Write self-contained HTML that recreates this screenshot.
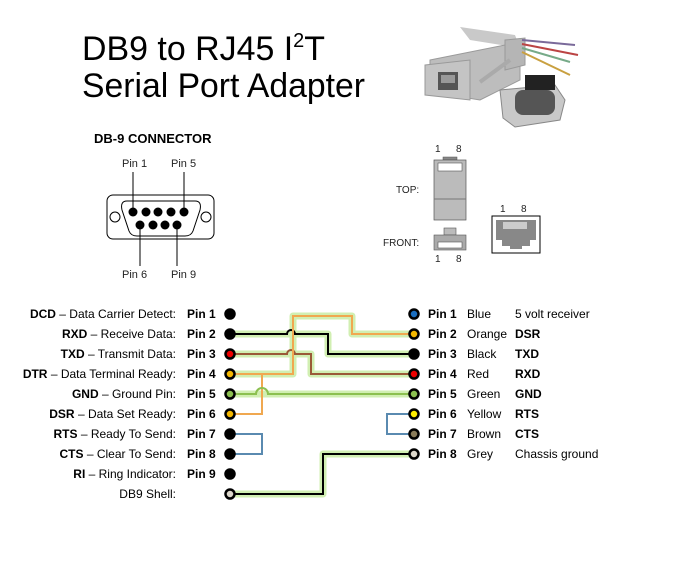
<!DOCTYPE html>
<html><head><meta charset="utf-8"><style>
html,body{margin:0;padding:0;background:#fff;}
svg{display:block;font-family:"Liberation Sans",sans-serif;}
</style></head><body>
<svg width="690" height="566" viewBox="0 0 690 566" xmlns="http://www.w3.org/2000/svg">
<rect width="690" height="566" fill="#fff"/>
<!-- Title -->
<text x="82" y="60" font-size="34" textLength="243" lengthAdjust="spacingAndGlyphs">DB9 to RJ45 I<tspan font-size="20" dy="-13">2</tspan><tspan dy="13">T</tspan></text>
<text x="82" y="97" font-size="34" textLength="283" lengthAdjust="spacingAndGlyphs">Serial Port Adapter</text>

<!-- Adapter photo approximation -->
<g>
<polygon points="460,27 515,35 520,48 470,40" fill="#c9c9c9"/>
<polygon points="430,60 505,45 520,50 520,80 480,100 430,92" fill="#bdbdbd" stroke="#9a9a9a"/>
<polygon points="425,65 470,60 470,100 425,95" fill="#c4c4c4" stroke="#999"/>
<rect x="438" y="72" width="20" height="18" fill="#555"/>
<rect x="441" y="75" width="14" height="8" fill="#999"/>
<polygon points="505,40 525,38 525,65 505,70" fill="#b5b5b5" stroke="#999"/>
<line x1="522" y1="40" x2="575" y2="45" stroke="#7a6a9a" stroke-width="2"/>
<line x1="522" y1="44" x2="578" y2="55" stroke="#b44" stroke-width="2"/>
<line x1="522" y1="48" x2="570" y2="62" stroke="#7a8" stroke-width="2"/>
<line x1="522" y1="52" x2="570" y2="75" stroke="#c9a040" stroke-width="2"/>
<line x1="480" y1="82" x2="510" y2="60" stroke="#aaa" stroke-width="4"/>
<polygon points="500,90 555,85 565,100 560,120 515,127 503,118" fill="#c8c8c8" stroke="#888"/>
<rect x="515" y="90" width="40" height="25" rx="8" fill="#555"/>
<rect x="525" y="75" width="30" height="15" fill="#222"/>
</g>

<!-- DB-9 diagram -->
<text x="94" y="143" font-size="13" font-weight="bold">DB-9 CONNECTOR</text>
<g font-size="11" fill="#222">
<text x="122" y="167">Pin 1</text><text x="171" y="167">Pin 5</text>
<text x="122" y="278">Pin 6</text><text x="171" y="278">Pin 9</text>
</g>
<rect x="107" y="195" width="107" height="44" rx="6" fill="none" stroke="#000"/>
<path d="M127,201 H195 Q202,201 200,210 L193,231 Q191,236 185,236 H137 Q131,236 129,231 L122,210 Q120,201 127,201 Z" fill="none" stroke="#000"/>
<circle cx="115" cy="217" r="5" fill="none" stroke="#000"/><circle cx="206" cy="217" r="5" fill="none" stroke="#000"/>
<g fill="#000"><circle cx="133" cy="212" r="4.5"/><circle cx="146" cy="212" r="4.5"/><circle cx="158" cy="212" r="4.5"/><circle cx="171" cy="212" r="4.5"/><circle cx="184" cy="212" r="4.5"/>
<circle cx="140" cy="225" r="4.5"/><circle cx="153" cy="225" r="4.5"/><circle cx="165" cy="225" r="4.5"/><circle cx="177" cy="225" r="4.5"/></g>
<g stroke="#000"><line x1="133" y1="172" x2="133" y2="210"/><line x1="184" y1="172" x2="184" y2="210"/><line x1="140" y1="227" x2="140" y2="266"/><line x1="177" y1="227" x2="177" y2="266"/></g>

<!-- RJ45 diagram -->
<g font-size="10" fill="#222">
<text x="435" y="152">1</text><text x="456" y="152">8</text>
<text x="396" y="193">TOP:</text>
<text x="383" y="246">FRONT:</text>
<text x="435" y="262">1</text><text x="456" y="262">8</text>
<text x="500" y="212">1</text><text x="521" y="212">8</text>
</g>
<rect x="443" y="157" width="14" height="3" fill="#888" stroke="#555" stroke-width=".5"/>
<rect x="434" y="160" width="32" height="60" fill="#bbb" stroke="#555" stroke-width=".7"/>
<line x1="434" y1="199" x2="466" y2="199" stroke="#777"/>
<rect x="438" y="163" width="24" height="8" fill="#fff" stroke="#555" stroke-width=".6"/>
<rect x="444" y="228" width="12" height="7" fill="#bbb" stroke="#555" stroke-width=".6"/>
<rect x="434" y="235" width="32" height="15" fill="#aaa" stroke="#555" stroke-width=".6"/>
<rect x="438" y="242" width="24" height="6" fill="#fff" stroke="#555" stroke-width=".6"/>
<rect x="492" y="216" width="48" height="37" fill="#fff" stroke="#000"/>
<path d="M496,220 H536 V240 H530 V246 H522 V249 H510 V246 H502 V240 H496 Z" fill="#888"/>
<rect x="503" y="222" width="24" height="7" fill="#ccc"/>

<!-- Wires: glow -->
<g fill="none" stroke="#cdeeaa" stroke-width="7" stroke-linejoin="round" opacity="0.9">
<path d="M230,374 H293 V316 H352 V334 H414"/>
<path d="M230,334 H328 V354 H414"/>
<path d="M230,354 H311 V374 H414"/>
<path d="M230,394 H414"/>
<path d="M230,494 H323 V454 H414"/>
</g>
<!-- Wires -->
<g fill="none" stroke-width="2" stroke-linejoin="miter">
<path d="M230,374 H262 V414 H230" stroke="#f0a850"/>
<path d="M230,394 H256 A6,6 0 0 1 268,394 H414" stroke="#8cc050"/>
<path d="M230,334 H287 A4,4 0 0 1 295,334 H328 V354 H414" stroke="#000"/>
<path d="M230,354 H287 A4,4 0 0 1 295,354 H311 V374 H414" stroke="#9a5a38"/>
<path d="M230,374 H293 V316 H352 V334 H414" stroke="#f0a850"/>
<path d="M230,434 H262 V454 H230" stroke="#5a8ab0"/>
<path d="M414,414 H387 V434 H414" stroke="#5a8ab0"/>
<path d="M230,494 H323 V454 H414" stroke="#000"/>
</g>
<!-- Left dots -->
<g stroke="#000" stroke-width="2.5">
<circle cx="230" cy="314" r="4.5" fill="#000"/>
<circle cx="230" cy="334" r="4.5" fill="#000"/>
<circle cx="230" cy="354" r="4.5" fill="#e00"/>
<circle cx="230" cy="374" r="4.5" fill="#f5b800"/>
<circle cx="230" cy="394" r="4.5" fill="#8cc050"/>
<circle cx="230" cy="414" r="4.5" fill="#f5b800"/>
<circle cx="230" cy="434" r="4.5" fill="#000"/>
<circle cx="230" cy="454" r="4.5" fill="#000"/>
<circle cx="230" cy="474" r="4.5" fill="#000"/>
<circle cx="230" cy="494" r="4.5" fill="#ddd8cc"/>
</g>
<!-- Right dots -->
<g stroke="#000" stroke-width="2.5">
<circle cx="414" cy="314" r="4.5" fill="#1a6ec0"/>
<circle cx="414" cy="334" r="4.5" fill="#f5b800"/>
<circle cx="414" cy="354" r="4.5" fill="#000"/>
<circle cx="414" cy="374" r="4.5" fill="#e00"/>
<circle cx="414" cy="394" r="4.5" fill="#8cc050"/>
<circle cx="414" cy="414" r="4.5" fill="#ffee00"/>
<circle cx="414" cy="434" r="4.5" fill="#8a7c5a"/>
<circle cx="414" cy="454" r="4.5" fill="#ddd8cc"/>
</g>
<!-- Left labels -->
<g font-size="12" text-anchor="end">
<text x="176" y="318"><tspan font-weight="bold">DCD</tspan> – Data Carrier Detect:</text>
<text x="176" y="338"><tspan font-weight="bold">RXD</tspan> – Receive Data:</text>
<text x="176" y="358"><tspan font-weight="bold">TXD</tspan> – Transmit Data:</text>
<text x="176" y="378"><tspan font-weight="bold">DTR</tspan> – Data Terminal Ready:</text>
<text x="176" y="398"><tspan font-weight="bold">GND</tspan> – Ground Pin:</text>
<text x="176" y="418"><tspan font-weight="bold">DSR</tspan> – Data Set Ready:</text>
<text x="176" y="438"><tspan font-weight="bold">RTS</tspan> – Ready To Send:</text>
<text x="176" y="458"><tspan font-weight="bold">CTS</tspan> – Clear To Send:</text>
<text x="176" y="478"><tspan font-weight="bold">RI</tspan> – Ring Indicator:</text>
<text x="176" y="498">DB9 Shell:</text>
</g>
<g font-size="12" font-weight="bold">
<text x="187" y="318">Pin 1</text><text x="187" y="338">Pin 2</text><text x="187" y="358">Pin 3</text><text x="187" y="378">Pin 4</text><text x="187" y="398">Pin 5</text><text x="187" y="418">Pin 6</text><text x="187" y="438">Pin 7</text><text x="187" y="458">Pin 8</text><text x="187" y="478">Pin 9</text>
</g>
<!-- Right labels -->
<g font-size="12" font-weight="bold">
<text x="428" y="318">Pin 1</text><text x="428" y="338">Pin 2</text><text x="428" y="358">Pin 3</text><text x="428" y="378">Pin 4</text><text x="428" y="398">Pin 5</text><text x="428" y="418">Pin 6</text><text x="428" y="438">Pin 7</text><text x="428" y="458">Pin 8</text>
</g>
<g font-size="12">
<text x="467" y="318">Blue</text><text x="467" y="338">Orange</text><text x="467" y="358">Black</text><text x="467" y="378">Red</text><text x="467" y="398">Green</text><text x="467" y="418">Yellow</text><text x="467" y="438">Brown</text><text x="467" y="458">Grey</text>
<text x="515" y="318">5 volt receiver</text>
<text x="515" y="458">Chassis ground</text>
</g>
<g font-size="12" font-weight="bold">
<text x="515" y="338">DSR</text><text x="515" y="358">TXD</text><text x="515" y="378">RXD</text><text x="515" y="398">GND</text><text x="515" y="418">RTS</text><text x="515" y="438">CTS</text>
</g>
</svg>
</body></html>
